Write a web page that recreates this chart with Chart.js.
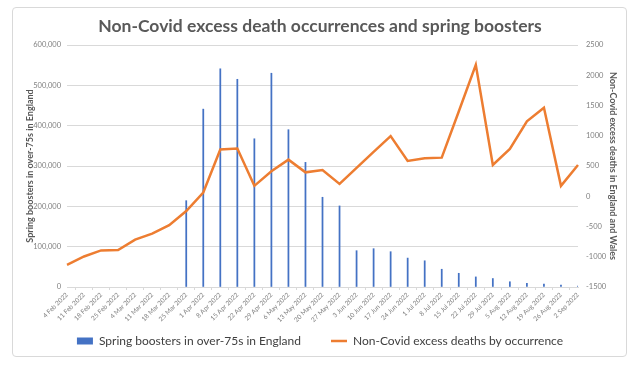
<!DOCTYPE html>
<html>
<head>
<meta charset="utf-8">
<script src="https://cdn.jsdelivr.net/npm/chart.js@4.4.1/dist/chart.umd.min.js"></script>
<style>
  html, body { margin: 0; padding: 0; background: #ffffff; }
  #wrap { position: relative; width: 640px; height: 365px; }
  #frame {
    position: absolute; left: 12px; top: 7px; width: 615px; height: 350px;
    border: 1px solid #d9d9d9; border-radius: 4px; box-sizing: border-box;
  }
  #chart { position: absolute; left: 0; top: 0; }
</style>
</head>
<body>
<div id="wrap">
  <div id="frame"></div>
  <canvas id="chart" width="640" height="365"></canvas>
</div>
<script>
// week ending dates
const weeks = [
  '4 Feb 2022', '11 Feb 2022', '18 Feb 2022', '25 Feb 2022',
  '4 Mar 2022', '11 Mar 2022', '18 Mar 2022', '25 Mar 2022',
  '1 Apr 2022', '8 Apr 2022', '15 Apr 2022', '22 Apr 2022', '29 Apr 2022',
  '6 May 2022', '13 May 2022', '20 May 2022', '27 May 2022',
  '3 Jun 2022', '10 Jun 2022', '17 Jun 2022', '24 Jun 2022',
  '1 Jul 2022', '8 Jul 2022', '15 Jul 2022', '22 Jul 2022', '29 Jul 2022',
  '5 Aug 2022', '12 Aug 2022', '19 Aug 2022', '26 Aug 2022', '2 Sep 2022'
];

// spring boosters given to over-75s (left axis)
const boosters = [
  null, null, null, null, null, null, null, 214000,
  441000, 541000, 515000, 367500, 530000,
  390000, 309000, 222500, 201000,
  90000, 95000, 87500, 71700,
  65000, 44000, 34000, 25000, 21000,
  13000, 9000, 7000, 5000, 2000
];

// non-covid excess deaths by occurrence (right axis)
const excessDeaths = [
  -1133, -995, -895, -890,
  -717, -617, -478, -245,
  62, 772, 788, 172, 412,
  605, 395, 433, 205,
  470, 733, 995, 583,
  628, 638, 1400, 2172, 517,
  783, 1238, 1462, 172, 517
];

const leftTicks = [0, 100000, 200000, 300000, 400000, 500000, 600000];
const rightTicks = [-1500, -1000, -500, 0, 500, 1000, 1500, 2000, 2500];

const FONT = 'Lato, "Open Sans", sans-serif';
const BLUE = '#4472c4';
const ORANGE = '#ed7d31';

const ctx = document.getElementById('chart').getContext('2d');

new Chart(ctx, {
  data: {
    labels: weeks,
    datasets: [
      {
        type: 'line',
        label: 'Non-Covid excess deaths by occurrence',
        data: excessDeaths,
        yAxisID: 'yRight',
        borderColor: ORANGE,
        backgroundColor: ORANGE,
        borderWidth: 2.5,
        pointRadius: 0,
        tension: 0,
        order: 1,
        pointStyle: 'line'
      },
      {
        type: 'bar',
        label: 'Spring boosters in over-75s in England',
        data: boosters,
        yAxisID: 'yLeft',
        backgroundColor: BLUE,
        borderWidth: 0,
        barThickness: 1.1,
        order: 2,
        pointStyle: 'rect'
      }
    ]
  },
  options: {
    responsive: false,
    animation: false,
    layout: { padding: { left: 12, right: 12, top: 7, bottom: 8 } },
    plugins: {
      title: {
        display: true,
        text: 'Non-Covid excess death occurrences and spring boosters',
        color: '#595959',
        font: { family: FONT, size: 17.5, weight: 'bold' },
        padding: { top: 9, bottom: 8 }
      },
      legend: {
        position: 'bottom',
        reverse: true,
        labels: {
          usePointStyle: true,
          pointStyleWidth: 16,
          boxHeight: 7,
          padding: 30,
          color: '#404040',
          font: { family: FONT, size: 12 }
        }
      },
      tooltip: { enabled: false }
    },
    scales: {
      x: {
        offset: false,
        grid: { display: true, drawOnChartArea: false, color: '#d9d9d9', tickLength: 3 },
        border: { display: true, color: '#d9d9d9' },
        ticks: {
          autoSkip: false,
          minRotation: 45,
          maxRotation: 45,
          padding: 1,
          color: '#7f7f7f',
          font: { family: FONT, size: 6.5 }
        },
        afterFit: (scale) => {
          scale.height = 18;
          // let the rotated dates run down past the short axis box
          scale._computeLabelArea = () => null;
        }
      },
      yLeft: {
        position: 'left',
        min: 0,
        max: 600000,
        afterBuildTicks: (scale) => { scale.ticks = leftTicks.map(v => ({ value: v })); },
        grid: { color: '#d9d9d9', drawTicks: false },
        border: { display: false },
        ticks: {
          padding: 6,
          color: '#7f7f7f',
          font: { family: FONT, size: 7.5 },
          callback: (v) => v.toLocaleString('en-GB')
        },
        title: {
          display: true,
          text: 'Spring boosters in over-75s in England',
          color: '#595959',
          font: { family: FONT, size: 9, weight: 'bold' },
          padding: { top: 13, bottom: 0 }
        },
        afterFit: (scale) => { scale.width = 55; }
      },
      yRight: {
        position: 'right',
        min: -1500,
        max: 2500,
        afterBuildTicks: (scale) => { scale.ticks = rightTicks.map(v => ({ value: v })); },
        grid: { display: false, drawTicks: false },
        border: { display: false },
        ticks: {
          padding: 8,
          color: '#7f7f7f',
          font: { family: FONT, size: 7.5 },
          callback: (v) => String(v)
        },
        title: {
          display: true,
          text: 'Non-Covid excess deaths in England and Wales',
          color: '#595959',
          font: { family: FONT, size: 9, weight: 'bold' },
          padding: { top: 10, bottom: 0 }
        },
        afterFit: (scale) => { scale.width = 50; }
      }
    }
  }
});
</script>
</body>
</html>
